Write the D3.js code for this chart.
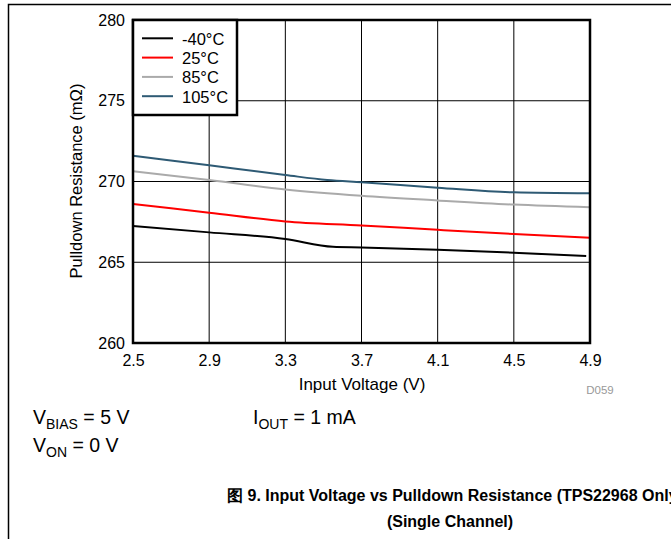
<!DOCTYPE html>
<html><head><meta charset="utf-8">
<script src="https://cdn.jsdelivr.net/npm/d3@7"></script>
<style>
body{margin:0;background:#fff;}
svg{display:block;font-family:"Liberation Sans",Arial,sans-serif;}
</style></head>
<body>
<svg id="c" width="671" height="539"></svg>
<script>
const xTicks = [2.5, 2.9, 3.3, 3.7, 4.1, 4.5, 4.9];
const yTicks = [260, 265, 270, 275, 280];
const seriesNames = ["-40°C", "25°C", "85°C", "105°C"];
const seriesColors = ["#000000", "#ff0000", "#aaaaaa", "#2e5a74"];
const vNeg40 = [[2.5,267.25],[2.9,266.85],[3.3,266.44],[3.55,265.96],[3.7,265.92],[4.1,265.78],[4.5,265.59],[4.88,265.38]];
const v25 = [[2.5,268.61],[2.9,268.07],[3.3,267.53],[3.7,267.28],[4.1,267.01],[4.5,266.75],[4.9,266.52]];
const v85 = [[2.5,270.63],[2.9,270.09],[3.3,269.51],[3.7,269.12],[4.1,268.83],[4.5,268.57],[4.9,268.40]];
const v105 = [[2.5,271.6],[2.9,271.0],[3.3,270.4],[3.52,270.09],[3.7,269.95],[4.1,269.62],[4.5,269.33],[4.9,269.27]];
const allSeries = [vNeg40, v25, v85, v105];

const svg = d3.select("#c");
const L = 133, R = 590, T = 20, B = 343;
const x = d3.scaleLinear().domain([2.5, 4.9]).range([L, R]);
const y = d3.scaleLinear().domain([260, 280]).range([B, T]);

// outer frame
svg.append("path").attr("d", "M8.5,539 V4.5 H671").attr("fill","none").attr("stroke","#000").attr("stroke-width",1.5);

// grid
const g = svg.append("g");
g.selectAll(".vg").data(xTicks).join("line")
  .attr("x1", d=>x(d)).attr("x2", d=>x(d)).attr("y1", T).attr("y2", B)
  .attr("stroke", "#000").attr("stroke-width", 1);
g.selectAll(".hg").data(yTicks).join("line")
  .attr("x1", L).attr("x2", R).attr("y1", d=>y(d)).attr("y2", d=>y(d))
  .attr("stroke", "#000").attr("stroke-width", 1);

// axes labels
const xAxis = d3.axisBottom(x).tickValues(xTicks).tickSize(0).tickPadding(12).tickFormat(d3.format(".1f"));
const xa = svg.append("g").attr("transform", `translate(0,${B})`).call(xAxis);
xa.select(".domain").remove();
xa.selectAll("text").attr("font-size", 16).attr("fill","#000").attr("font-family","Liberation Sans, Arial, sans-serif");
const yAxis = d3.axisLeft(y).tickValues(yTicks).tickSize(0).tickPadding(8).tickFormat(d3.format("d"));
const ya = svg.append("g").attr("transform", `translate(${L},0)`).call(yAxis);
ya.select(".domain").remove();
ya.selectAll("text").attr("font-size", 16).attr("fill","#000").attr("font-family","Liberation Sans, Arial, sans-serif");

// lines
const line = d3.line().x(d=>x(d[0])).y(d=>y(d[1])).curve(d3.curveMonotoneX);
svg.append("g").selectAll("path").data(allSeries).join("path")
  .attr("d", line).attr("fill","none")
  .attr("stroke", (d,i)=>seriesColors[i]).attr("stroke-width", 2);

// plot frame
svg.append("rect").attr("x", L).attr("y", T).attr("width", R-L).attr("height", B-T)
  .attr("fill","none").attr("stroke","#000").attr("stroke-width", 2.5);

// legend
const lg = svg.append("g");
lg.append("rect").attr("x", L).attr("y", T).attr("width", 104).attr("height", 95)
  .attr("fill","#fff").attr("stroke","#000").attr("stroke-width", 2.5);
seriesNames.forEach((n,i)=>{
  const yy = 38.3 + i*19.3;
  lg.append("line").attr("x1",142).attr("x2",173).attr("y1",yy).attr("y2",yy)
    .attr("stroke", seriesColors[i]).attr("stroke-width", 2);
  lg.append("text").attr("x",182).attr("y",yy+6.5).attr("font-size",16.5).text(n);
});

// axis titles
svg.append("text").attr("x", 362).attr("y", 390).attr("text-anchor","middle")
  .attr("font-size", 17).text("Input Voltage (V)");
svg.append("text").attr("transform", `translate(82,181) rotate(-90)`)
  .attr("text-anchor","middle").attr("font-size", 16.5).text("Pulldown Resistance (mΩ)");
svg.append("text").attr("x", 600).attr("y", 394).attr("text-anchor","middle")
  .attr("font-size", 11.5).attr("fill","#999").text("D059");

// conditions
function cond(xp, yp, main, sub, rest){
  const t = svg.append("text").attr("x", xp).attr("y", yp).attr("font-size", 19.5);
  t.append("tspan").text(main);
  t.append("tspan").attr("dy", 5).attr("font-size", 14).text(sub);
  t.append("tspan").attr("dy", -5).text(rest);
}
cond(33, 424, "V", "BIAS", " = 5 V");
cond(253, 424, "I", "OUT", " = 1 mA");
cond(33, 452, "V", "ON", " = 0 V");

// caption
svg.append("text").attr("x", 455).attr("y", 501).attr("text-anchor","middle")
  .attr("font-size", 16).attr("font-weight","bold")
  .text("图 9. Input Voltage vs Pulldown Resistance (TPS22968 Only)");
svg.append("text").attr("x", 450).attr("y", 527).attr("text-anchor","middle")
  .attr("font-size", 16).attr("font-weight","bold").text("(Single Channel)");
</script>
</body></html>
